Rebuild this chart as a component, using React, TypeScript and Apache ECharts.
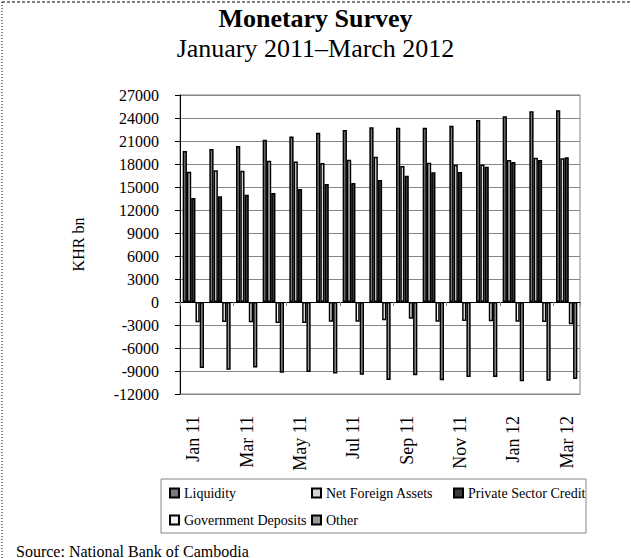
import React, { useEffect, useRef } from "react";
import * as echarts from "echarts";

const months = [
  "Jan 11", "Feb 11", "Mar 11", "Apr 11", "May 11", "Jun 11", "Jul 11", "Aug 11",
  "Sep 11", "Oct 11", "Nov 11", "Dec 11", "Jan 12", "Feb 12", "Mar 12",
];
const liquidity = [19700, 19950, 20350, 21150, 21600, 22080, 22430, 22780, 22740, 22740, 23000, 23740, 24220, 24870, 25000];
const netForeignAssets = [17000, 17170, 17130, 18430, 18340, 18130, 18560, 18950, 17730, 18170, 17910, 17950, 18520, 18820, 18740];
const privateSectorCredit = [13560, 13780, 14000, 14210, 14730, 15390, 15520, 15910, 16470, 16910, 16950, 17650, 18260, 18520, 18870];
const governmentDeposits = [-2650, -2610, -2650, -2740, -2740, -2570, -2570, -2390, -2170, -2570, -2480, -2520, -2570, -2610, -2910];
const other = [-8610, -8830, -8530, -9220, -9130, -9310, -9480, -10180, -9570, -10220, -9790, -9790, -10350, -10270, -10050];

const seriesNames = ["Liquidity", "Net Foreign Assets", "Private Sector Credit", "Government Deposits", "Other"];
const seriesData = [liquidity, netForeignAssets, privateSectorCredit, governmentDeposits, other];
const seriesColors = ["#7a7a7a", "#d4d4d4", "#3a3a3a", "#f2f2f2", "#9a9a9a"];

const FONT = "'Liberation Serif', 'Times New Roman', serif";

export default function App() {
  const ref = useRef<HTMLDivElement>(null);
  useEffect(() => {
    if (!ref.current) return;
    const chart = echarts.init(ref.current, undefined, { renderer: "svg" });
    const legendCommon = {
      orient: "horizontal",
      left: 169,
      padding: 0,
      itemGap: 0,
      itemWidth: 9,
      itemHeight: 9,
      icon: "rect",
      selectedMode: false,
      textStyle: { fontFamily: FONT, fontSize: 14, color: "#000", width: 127, lineHeight: 16 },
    };
    chart.setOption({
      animation: false,
      backgroundColor: "#fff",
      title: [
        {
          text: "Monetary Survey",
          left: "center",
          top: 5,
          padding: 0,
          textStyle: { fontFamily: FONT, fontSize: 26, fontWeight: "bold", color: "#000" },
        },
        {
          text: "January 2011\u2013March 2012",
          left: "center",
          top: 35,
          padding: 0,
          textStyle: { fontFamily: FONT, fontSize: 26, fontWeight: "normal", color: "#000" },
        },
      ],
      legend: [
        { ...legendCommon, top: 485, data: seriesNames.slice(0, 3) },
        { ...legendCommon, top: 512, data: seriesNames.slice(3) },
      ],
      grid: {
        left: 180,
        right: 51,
        top: 95,
        bottom: 164,
        show: true,
        borderColor: "#868686",
        borderWidth: 1,
      },
      xAxis: [
        {
          type: "category",
          data: months,
          position: "bottom",
          axisLine: { onZero: false, lineStyle: { color: "#868686", width: 1 } },
          axisTick: { show: false },
          axisLabel: {
            rotate: 90,
            interval: 1,
            margin: 22,
            fontFamily: FONT,
            fontSize: 18,
            color: "#000",
          },
          splitLine: { show: false },
        },
        {
          type: "category",
          data: months,
          position: "bottom",
          axisLine: { onZero: true, onZeroAxisIndex: 0, lineStyle: { color: "#000", width: 1 } },
          axisTick: { show: true, interval: 1, length: 4, lineStyle: { color: "#868686" } },
          axisLabel: { show: false },
          splitLine: { show: false },
        },
      ],
      yAxis: {
        type: "value",
        min: -12000,
        max: 27000,
        interval: 3000,
        name: "KHR bn",
        nameLocation: "middle",
        nameRotate: 90,
        nameGap: 94,
        nameTextStyle: { fontFamily: FONT, fontSize: 16, color: "#000" },
        axisLine: { show: true, lineStyle: { color: "#000", width: 1 } },
        axisTick: { show: true, length: 5, lineStyle: { color: "#000" } },
        axisLabel: {
          margin: 21,
          fontFamily: FONT,
          fontSize: 16,
          color: "#000",
          formatter: (v: number) => String(v),
        },
        splitLine: { show: true, lineStyle: { color: "#868686", width: 1 } },
      },
      series: seriesNames.map((name, i) => ({
        name,
        type: "bar",
        xAxisIndex: 0,
        data: seriesData[i],
        barGap: "0%",
        barCategoryGap: "20%",
        itemStyle: { color: seriesColors[i], borderColor: "#000", borderWidth: 1.5 },
      })),
      graphic: [
        {
          type: "line",
          shape: { x1: 2, y1: 2, x2: 631, y2: 2 },
          style: { stroke: "#000", lineWidth: 1, lineDash: [3, 2] },
        },
        {
          type: "line",
          shape: { x1: 2, y1: 2, x2: 2, y2: 558 },
          style: { stroke: "#000", lineWidth: 1, lineDash: [1, 2] },
        },
        {
          type: "rect",
          shape: { x: 161, y: 479, width: 425, height: 54 },
          style: { fill: "none", stroke: "#868686", lineWidth: 1 },
          z: -1,
        },
        {
          type: "text",
          left: 16,
          top: 543,
          style: { text: "Source: National Bank of Cambodia", font: `16px ${FONT}`, fill: "#000" },
        },
      ],
    });
    return () => chart.dispose();
  }, []);
  return (
    <div
      ref={ref}
      style={{ position: "fixed", left: 0, top: 0, width: 631, height: 558 }}
    />
  );
}
